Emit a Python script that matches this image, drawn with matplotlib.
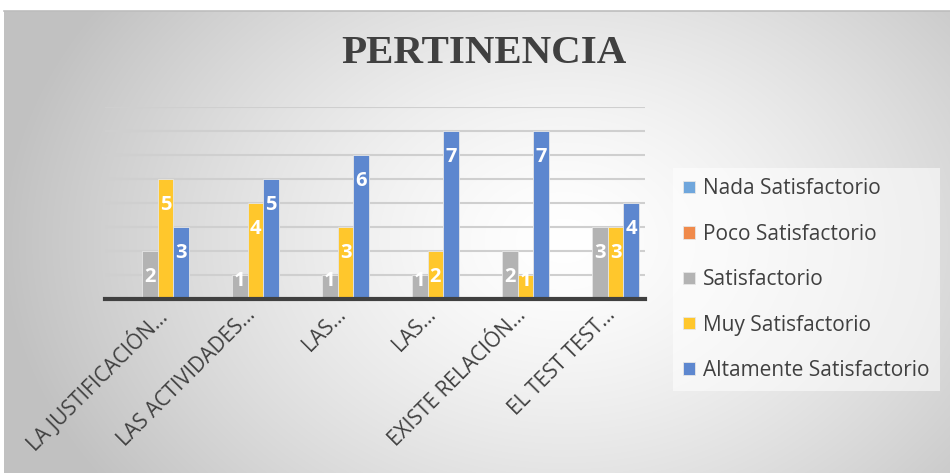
import matplotlib.pyplot as plt
import matplotlib.transforms as mtransforms
import numpy as np

plt.rcParams['font.family'] = ['Open Sans', 'DejaVu Sans']

categories = ['LA JUSTIFICACIÓN...', 'LAS ACTIVIDADES...', 'LAS...', 'LAS...',
              'EXISTE RELACIÓN...', 'EL TEST TEST...']
series = ['Nada Satisfactorio', 'Poco Satisfactorio', 'Satisfactorio',
          'Muy Satisfactorio', 'Altamente Satisfactorio']
nada = [0, 0, 0, 0, 0, 0]
poco = [0, 0, 0, 0, 0, 0]
satis = [2, 1, 1, 1, 2, 3]
muy = [5, 4, 3, 2, 1, 3]
alta = [3, 5, 6, 7, 7, 4]
values = [nada, poco, satis, muy, alta]
colors = ['#6fa6dc', '#f08a4b', '#b3b3b3', '#ffc72c', '#5d87cf']

fig = plt.figure(figsize=(9.5, 4.73), dpi=100)
fig.patch.set_facecolor('white')

# radial grey-to-white background of the chart area
bg = fig.add_axes([4 / 950, 0, 946 / 950, 462 / 473])
yy, xx = np.mgrid[0:462, 0:946]
d = np.hypot((xx - 560) / 560, (yy - 230) / 420)
t = np.clip(d, 0, 1) ** 1.4
shade = 1.0 - t * (1.0 - 0.76)
bg.imshow(np.dstack([shade] * 3), aspect='auto', extent=[0, 1, 0, 1], origin='upper')
bg.set_axis_off()
fig.add_artist(plt.Line2D([4 / 950, 1], [462 / 473, 462 / 473], color='#bdbdbd', lw=1.2))

ax = fig.add_axes([105 / 950, 174 / 473, 540 / 950, 192 / 473])
ax.set_facecolor('none')
x = np.arange(len(categories))
w = 0.172
for i, (name, vals, c) in enumerate(zip(series, values, colors)):
    pos = x + (i - 2) * w
    ax.bar(pos, vals, w, color=c, edgecolor='#e6e6e6', linewidth=0.6, label=name, zorder=3)
    for px, v in zip(pos, vals):
        if v > 0:
            ax.text(px, max(v - 1.1, 0.75), str(v), color='white', fontsize=14.5,
                    fontweight='bold', ha='center', va='center', zorder=4)

ax.set_xlim(-0.5, len(categories) - 0.5)
ax.set_ylim(0, 8)
ax.set_yticks(np.arange(1, 9))
ax.yaxis.grid(True, color='#cfcfcf', lw=1.5, zorder=0)
ax.tick_params(axis='y', left=False, labelleft=False)
ax.tick_params(axis='x', length=0, pad=4, labelsize=15, labelcolor='#404040')
ax.set_xticks(x)
ax.set_xticklabels(categories, rotation=45, ha='right', va='top', rotation_mode='anchor')
shift = mtransforms.ScaledTranslation(0.05, 0, fig.dpi_scale_trans)
for lab in ax.get_xticklabels():
    lab.set_transform(lab.get_transform() + shift)
for s in ['top', 'right', 'left']:
    ax.spines[s].set_visible(False)
ax.spines['bottom'].set_color('#404040')
ax.spines['bottom'].set_linewidth(3)
ax.spines['bottom'].set_zorder(5)

fig.text(484 / 950, 420 / 473, 'PERTINENCIA', family='Liberation Serif', fontweight='bold',
         fontsize=29.5, color='#404040', ha='center', va='center')

leg = fig.legend(loc='upper left', bbox_to_anchor=(673 / 950, 305 / 473), fontsize=15,
                 frameon=True, fancybox=False, labelspacing=1.17, handlelength=0.55,
                 handleheight=0.55, handletextpad=0.4, borderpad=0.5, borderaxespad=0)
leg.get_frame().set_facecolor('white')
leg.get_frame().set_alpha(0.55)
leg.get_frame().set_edgecolor('none')
for txt in leg.get_texts():
    txt.set_color('#404040')

fig.savefig('out.png', dpi=100)
